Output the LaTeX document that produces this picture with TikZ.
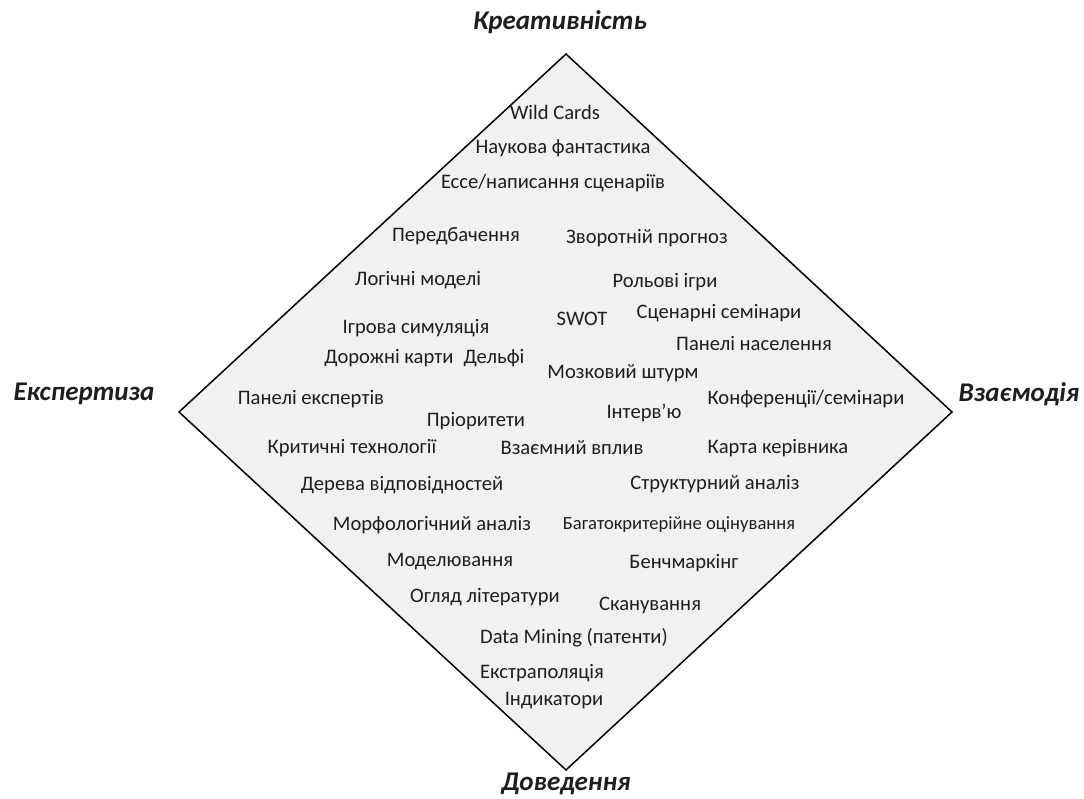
\documentclass[tikz,border=0pt]{standalone}
\usepackage{fontspec}
\setmainfont{Carlito}
\usetikzlibrary{positioning}

\definecolor{fieldgray}{RGB}{240,241,243}
\definecolor{textgray}{RGB}{30,30,30}

\tikzset{
  method/.style={inner sep=0pt, text=textgray, font=\fontsize{20.6}{23}\selectfont},
  smallmethod/.style={method, font=\fontsize{18.6}{21}\selectfont},
  pole/.style={inner sep=0pt, text=textgray, font=\fontsize{27}{30}\selectfont\bfseries\itshape}
}

\begin{document}
\begin{tikzpicture}[x=1pt,y=-1pt]
			\useasboundingbox (0,0) rectangle (1084,799);
			%%Diamond
			\coordinate (ctop) at (566,54);
			\coordinate (cright) at (952,412);
			\coordinate (cbottom) at (566,770);
			\coordinate (cleft) at (179,412);
			\draw[line width=1.5pt, fill=fieldgray, line join=miter] (ctop) -- (cright) -- (cbottom) -- (cleft) -- cycle;
			
			%%Poles
			\node[pole] (creat) at (560,22) {Креативність};
			\node[pole] (expert) at (84,394) {Експертиза};
			\node[pole] (interact) at (1019,394) {Взаємодія};
			\node[pole] (proof) at (566,784) {Доведення};
			
			%%Methods
			\node[method] (wild) at (555,112) {Wild Cards};
			\node[method] (scifi) at (563,148) {Наукова фантастика};
			\node[method] (essay) at (553,183) {Ессе/написання сценаріїв};
			\node[method] (foresight) at (456,236) {Передбачення};
			\node[method] (backcast) at (647,238) {Зворотній прогноз};
			\node[method] (logic) at (418,280) {Логічні моделі};
			\node[method] (roleplay) at (665,282) {Рольові ігри};
			\node[method] (swot) at (582,319) {SWOT};
			\node[method] (scenws) at (719,313) {Сценарні семінари};
			\node[method] (gamesim) at (416,328) {Ігрова симуляція};
			\node[method] (citizen) at (754,343) {Панелі населення};
			\node[method] (roadmap) at (389,358) {Дорожні карти};
			\node[method] (delphi) at (494,358) {Дельфі};
			\node[method] (brainstorm) at (623,373) {Мозковий штурм};
			\node[method] (expanel) at (311,399) {Панелі експертів};
			\node[method] (confer) at (806,399) {Конференції/семінари};
			\node[method] (priority) at (476,421) {Пріоритети};
			\node[method] (interview) at (644,413) {Інтерв’ю};
			\node[method] (crittech) at (352,448) {Критичні технології};
			\node[method] (crossimp) at (572,448) {Взаємний вплив};
			\node[method] (stakemap) at (778,448) {Карта керівника};
			\node[method] (reltree) at (402,485) {Дерева відповідностей};
			\node[method] (structan) at (715,484) {Структурний аналіз};
			\node[method] (morph) at (432,525) {Морфологічний аналіз};
			\node[smallmethod] (multicrit) at (679,525) {Багатокритерійне оцінування};
			\node[method] (model) at (450,562) {Моделювання};
			\node[method] (bench) at (684,563) {Бенчмаркінг};
			\node[method] (litrev) at (485,597) {Огляд літератури};
			\node[method] (scan) at (650,605) {Сканування};
			\node[method] (datamin) at (574,638) {Data Mining (патенти)};
			\node[method] (extrap) at (542,673) {Екстраполяція};
			\node[method] (indic) at (554,701) {Індикатори};
\end{tikzpicture}
\end{document}
